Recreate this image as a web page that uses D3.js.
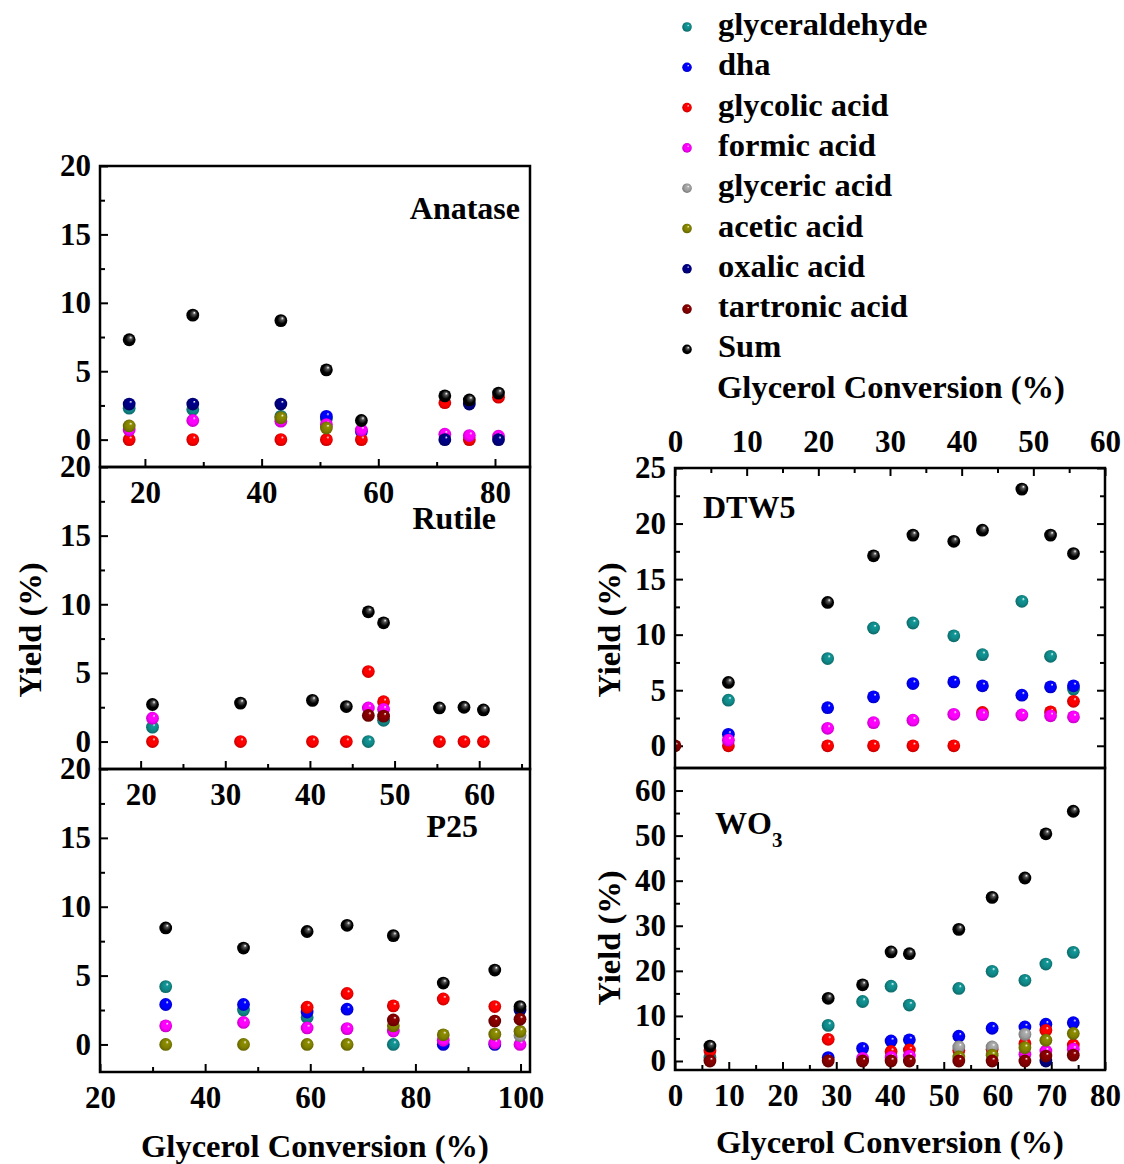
<!DOCTYPE html>
<html>
<head>
<meta charset="utf-8">
<script src="https://cdn.jsdelivr.net/npm/d3@7"></script>
<style>
  body { margin: 0; background: #fff; }
  text { font-family: 'Liberation Serif', 'Times New Roman', serif; font-weight: bold; fill: #000; }
</style>
</head>
<body>
<svg id="chart" width="1124" height="1164"></svg>
<script>
// series, in legend order (Sum drawn last, on top)
const seriesNames = ['glyceraldehyde', 'dha', 'glycolic acid', 'formic acid', 'glyceric acid',
  'acetic acid', 'oxalic acid', 'tartronic acid', 'Sum'];
const seriesColors = ['#108888', '#0000ff', '#ff0000', '#ff00ff', '#9c9c9c',
  '#808000', '#000080', '#800000', '#000000'];

// Anatase
const anataseConv = [17.3, 28.2, 43.3, 51.1, 57.1, 71.4, 75.6, 80.6];
const anataseYield = [
  [2.3, 2.2, 1.7, 1.5, null, null, null, null],
  [null, null, null, 1.7, 0.6, null, null, null],
  [0, 0, 0, 0, 0, 2.7, 0, 3.1],
  [0.7, 1.4, 1.35, 1.1, 0.7, 0.4, 0.3, 0.25],
  [null, null, null, null, null, null, null, null],
  [1.0, null, 1.6, 0.85, null, null, null, null],
  [2.6, 2.6, 2.6, null, null, 0, 2.6, 0],
  [null, null, null, null, null, null, null, null],
  [7.3, 9.1, 8.7, 5.1, 1.4, 3.2, 2.9, 3.4]
];

// Rutile
const rutileConv = [21.4, 31.8, 40.3, 44.3, 46.9, 48.7, 55.3, 58.2, 60.5];
const rutileYield = [
  [1.05, null, null, null, 0, 1.55, null, null, null],
  [null, null, null, null, null, null, null, null, null],
  [0, 0, 0, 0, 5.1, 2.9, 0, 0, 0],
  [1.7, null, null, null, 2.45, 2.35, null, null, null],
  [null, null, null, null, null, null, null, null, null],
  [null, null, null, null, null, null, null, null, null],
  [null, null, null, null, null, null, null, null, null],
  [null, null, null, null, 1.9, 1.85, null, null, null],
  [2.7, 2.8, 3.0, 2.55, 9.45, 8.65, 2.45, 2.5, 2.3]
];

// P25
const p25Conv = [32.5, 47.3, 59.4, 67.0, 75.8, 85.3, 95.1, 99.9];
const p25Yield = [
  [4.2, 2.5, 1.95, null, 0, null, null, null],
  [2.9, 2.9, 2.35, 2.56, null, 0, 0, null],
  [null, null, 2.7, 3.7, 2.8, 3.3, 2.75, null],
  [1.35, 1.6, 1.2, 1.15, 0.97, 0.3, 0.1, 0],
  [null, null, null, null, null, null, null, 0.65],
  [0, 0, 0, 0, 1.35, 0.7, 0.75, 0.95],
  [null, null, null, null, null, null, null, 2.5],
  [null, null, null, null, 1.78, null, 1.7, 1.83],
  [8.46, 7.0, 8.2, 8.65, 7.9, 4.46, 5.4, 2.75]
];

// DTW5
const dtw5Conv = [0, 7.45, 21.3, 27.7, 33.2, 38.9, 42.9, 48.4, 52.4, 55.6];
const dtw5Yield = [
  [null, 4.1, 7.85, 10.6, 11.05, 9.9, 8.2, 13.0, 8.05, 5.1],
  [null, 1.03, 3.43, 4.4, 5.6, 5.75, 5.4, 4.55, 5.3, 5.4],
  [null, 0, 0, 0, 0, 0, 3.0, null, 3.05, 4.0],
  [null, 0.5, 1.57, 2.08, 2.3, 2.83, 2.8, 2.77, 2.7, 2.6],
  [null, null, null, null, null, null, null, null, null, null],
  [null, null, null, null, null, null, null, null, null, null],
  [null, null, null, null, null, null, null, null, null, null],
  [0, null, null, null, null, null, null, null, null, null],
  [null, 5.7, 12.9, 17.1, 18.96, 18.4, 19.4, 23.1, 18.96, 17.3]
];

// WO3
const wo3Conv = [6.5, 28.5, 34.9, 40.2, 43.6, 52.8, 59.0, 65.1, 69.0, 74.1];
const wo3Yield = [
  [0.8, 7.9, 13.2, 16.6, 12.4, 16.1, 19.9, 17.9, 21.5, 24.1],
  [null, 0.75, 2.8, 4.45, 4.7, 5.5, 7.26, 7.55, 8.15, 8.5],
  [2.2, 4.8, null, 2.1, 2.45, 2.3, 2.6, 3.85, 6.8, 3.55],
  [null, null, 0.6, 0.8, 1.1, null, null, 1.5, 2.2, 2.6],
  [null, null, null, null, null, 3.1, 3.1, 5.9, null, null],
  [null, null, null, null, null, 0.9, 1.3, 2.96, 4.6, 6.1],
  [null, null, null, null, null, null, null, null, 0, null],
  [0, 0, 0, 0, 0, 0, 0, 0, 1.1, 1.3],
  [3.3, 13.9, 16.9, 24.2, 23.8, 29.2, 36.3, 40.6, 50.4, 55.4]
];

const svg = d3.select('#chart');
const defs = svg.append('defs');

// shaded ball look for the markers
seriesColors.forEach((c, i) => {
  const grad = defs.append('radialGradient')
    .attr('id', 'ball' + i)
    .attr('cx', '50%').attr('cy', '50%').attr('r', '55%')
    .attr('fx', '64%').attr('fy', '30%');
  const base = d3.color(c);
  grad.append('stop').attr('offset', '0%').attr('stop-color', '#ffffff');
  grad.append('stop').attr('offset', '22%').attr('stop-color', i === 8 ? '#555' : base.brighter(0.3));
  grad.append('stop').attr('offset', '60%').attr('stop-color', c);
  grad.append('stop').attr('offset', '100%').attr('stop-color', base.darker(0.9));
});

const panels = [
  { id: 'anatase', label: 'Anatase', x: 100, y: 166, w: 430, h: 301,
    xDom: [12.3, 86], yDom: [-2, 20], conv: anataseConv, yields: anataseYield,
    xMajor: [20, 40, 60, 80], xMinor: [30, 50, 70], xSide: 'bottom',
    yMajor: [0, 5, 10, 15, 20], yMinor: [2.5, 7.5, 12.5, 17.5],
    lab: { x: 520, y: 219, anchor: 'end' } },
  { id: 'rutile', label: 'Rutile', x: 100, y: 467, w: 430, h: 302,
    xDom: [15.2, 66], yDom: [-2, 20], conv: rutileConv, yields: rutileYield,
    xMajor: [20, 30, 40, 50, 60], xMinor: [25, 35, 45, 55, 65], xSide: 'bottom',
    yMajor: [0, 5, 10, 15, 20], yMinor: [2.5, 7.5, 12.5, 17.5],
    lab: { x: 496, y: 529, anchor: 'end' } },
  { id: 'p25', label: 'P25', x: 100, y: 769, w: 430, h: 303,
    xDom: [20, 101.8], yDom: [-2, 20], conv: p25Conv, yields: p25Yield,
    xMajor: [20, 40, 60, 80, 100], xMinor: [30, 50, 70, 90], xSide: 'bottom',
    yMajor: [0, 5, 10, 15, 20], yMinor: [2.5, 7.5, 12.5, 17.5],
    lab: { x: 478, y: 837, anchor: 'end' } },
  { id: 'dtw5', label: 'DTW5', x: 675, y: 468, w: 430, h: 300,
    xDom: [0, 60], yDom: [-2, 25], conv: dtw5Conv, yields: dtw5Yield,
    xMajor: [0, 10, 20, 30, 40, 50, 60], xMinor: [5, 15, 25, 35, 45, 55], xSide: 'top',
    yMajor: [0, 5, 10, 15, 20, 25], yMinor: [2.5, 7.5, 12.5, 17.5, 22.5], mirrorY: true,
    lab: { x: 703, y: 518, anchor: 'start' } },
  { id: 'wo3', label: 'WO', sub: '3', x: 675, y: 768, w: 430, h: 302,
    xDom: [0, 80], yDom: [-2, 65], conv: wo3Conv, yields: wo3Yield,
    xMajor: [0, 10, 20, 30, 40, 50, 60, 70, 80], xMinor: [5, 15, 25, 35, 45, 55, 65, 75], xSide: 'bottom',
    yMajor: [0, 10, 20, 30, 40, 50, 60], yMinor: [5, 15, 25, 35, 45, 55], 
    lab: { x: 715, y: 834, anchor: 'start' } }
];

function styleAxis(g) {
  g.select('.domain').remove();
  g.selectAll('line').attr('stroke', '#000').attr('stroke-width', 2);
  g.selectAll('text').style('font-size', '31px').attr('fill', '#000');
}

panels.forEach(p => {
  const g = svg.append('g').attr('transform', `translate(${p.x},${p.y})`);
  const x = d3.scaleLinear().domain(p.xDom).range([0, p.w]);
  const y = d3.scaleLinear().domain(p.yDom).range([p.h, 0]);

  defs.append('clipPath').attr('id', 'clip-' + p.id)
    .append('rect').attr('width', p.w).attr('height', p.h);

  // y axis, ticks pointing inward
  g.append('g').call(d3.axisLeft(y).tickValues(p.yMinor).tickSize(-5).tickFormat('')).call(styleAxis);
  g.append('g').call(d3.axisLeft(y).tickValues(p.yMajor).tickSize(-8).tickPadding(9).tickFormat(d3.format('d')))
    .call(styleAxis);
  if (p.mirrorY) {
    g.append('g').attr('transform', `translate(${p.w},0)`)
      .call(d3.axisRight(y).tickValues(p.yMinor).tickSize(-5).tickFormat('')).call(styleAxis);
    g.append('g').attr('transform', `translate(${p.w},0)`)
      .call(d3.axisRight(y).tickValues(p.yMajor).tickSize(-8).tickFormat('')).call(styleAxis);
  }

  // x axis
  if (p.xSide === 'bottom') {
    g.append('g').attr('transform', `translate(0,${p.h})`)
      .call(d3.axisBottom(x).tickValues(p.xMinor).tickSize(-5).tickFormat('')).call(styleAxis);
    g.append('g').attr('transform', `translate(0,${p.h})`)
      .call(d3.axisBottom(x).tickValues(p.xMajor).tickSize(-8).tickPadding(14).tickFormat(d3.format('d')))
      .call(styleAxis);
  } else {
    g.append('g').call(d3.axisTop(x).tickValues(p.xMinor).tickSize(-5).tickFormat('')).call(styleAxis);
    g.append('g').call(d3.axisTop(x).tickValues(p.xMajor).tickSize(-8).tickPadding(16).tickFormat(d3.format('d')))
      .call(styleAxis);
  }

  // markers
  const pts = g.append('g').attr('clip-path', `url(#clip-${p.id})`);
  p.yields.forEach((vals, si) => {
    const data = p.conv.map((c, i) => ({ c, v: vals[i] })).filter(d => d.v !== null);
    pts.selectAll(null).data(data).enter().append('circle')
      .attr('cx', d => x(d.c))
      .attr('cy', d => y(d.v))
      .attr('r', 6.4)
      .attr('fill', `url(#ball${si})`);
  });

  // frame
  g.append('rect').attr('width', p.w).attr('height', p.h)
    .attr('fill', 'none').attr('stroke', '#000').attr('stroke-width', 2.5);

  // panel label
  const t = g.append('text')
    .attr('x', p.lab.x - p.x).attr('y', p.lab.y - p.y)
    .attr('text-anchor', p.lab.anchor)
    .style('font-size', '32px')
    .text(p.label);
  if (p.sub) {
    t.append('tspan').attr('dy', 13).style('font-size', '21px').text(p.sub);
  }
});

// axis titles
function title(txt, x, y, rot) {
  svg.append('text')
    .attr('transform', `translate(${x},${y})` + (rot ? ' rotate(-90)' : ''))
    .attr('text-anchor', 'middle')
    .style('font-size', '32.5px')
    .text(txt);
}
title('Glycerol Conversion (%)', 315, 1157);
title('Glycerol Conversion (%)', 890, 1153);
title('Glycerol Conversion (%)', 891, 398);
title('Yield (%)', 41, 630, true);
title('Yield (%)', 620, 630, true);
title('Yield (%)', 620, 938, true);

// legend
const legend = svg.append('g');
seriesNames.forEach((name, i) => {
  const ly = 27 + i * 40.3;
  legend.append('circle').attr('cx', 687).attr('cy', ly).attr('r', 4.8)
    .attr('fill', `url(#ball${i})`);
  legend.append('text').attr('x', 718).attr('y', ly + 8)
    .style('font-size', '32.5px').text(name);
});
</script>
</body>
</html>
